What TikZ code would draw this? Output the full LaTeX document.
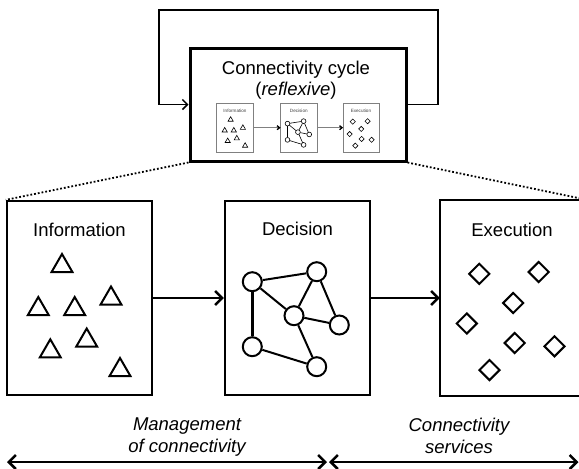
\documentclass[tikz,border=0pt]{standalone}
\usepackage{fontspec}
\setmainfont{Liberation Sans}
\usepackage{tikz}
\usetikzlibrary{arrows.meta}
\usetikzlibrary{shapes.geometric}

\tikzset{
	shapeline/.style={line width=2pt},
	thickline/.style={line width=3pt},
	panelline/.style={draw=black, line width=2.3pt},
	panel/.style={rectangle, panelline, minimum width=145pt, minimum height=194pt, inner sep=0pt},
	cutpanel/.style={draw=none},
	paneltitle/.style={font=\fontsize{18.5}{21.5}\selectfont, inner sep=0pt, anchor=base},
	tri/.style={regular polygon, regular polygon sides=3, draw, shapeline, minimum size=24pt, inner sep=0pt},
	dia/.style={diamond, draw, shapeline, minimum width=21pt, minimum height=21pt, inner sep=0pt},
	vtx/.style={circle, draw, shapeline, minimum size=19pt, inner sep=0pt},
	link/.style={shapeline},
	boldlink/.style={thickline},
	flow/.style={line width=2.5pt, -{Straight Barb[length=7pt,width=14pt]}},
	miniflow/.style={draw=gray, line width=1.3pt, -{Straight Barb[length=2.5pt,width=4pt,color=black]}},
	span/.style={line width=2.5pt, {Straight Barb[length=7pt,width=14pt]}-{Straight Barb[length=7pt,width=14pt]}},
	loopline/.style={line width=1.5pt, -{Straight Barb[length=5pt,width=10pt]}},
	zoomline/.style={dotted, line width=1.8pt},
	captext/.style={font=\fontsize{18.5}{22}\selectfont\itshape, align=center, inner sep=0pt, anchor=north},
	cycletitle/.style={font=\fontsize{18.5}{21}\selectfont, align=center, inner sep=0pt, anchor=north}
}

\newcommand{\infopanel}[1]{%
	\node[panel] (info#1) at (79.5,298) {};
	\node[paneltitle] (infotitle#1) at (79.5,236.5) {Information};
	\node[tri] (ta#1) at (62,266) {};
	\node[tri] (tb#1) at (38.3,309) {};
	\node[tri] (tc#1) at (74.7,309) {};
	\node[tri] (td#1) at (111,298.5) {};
	\node[tri] (te#1) at (50.3,351.3) {};
	\node[tri] (tf#1) at (86.7,340.5) {};
	\node[tri] (tg#1) at (120,370) {};
}

\newcommand{\decpanel}[1]{%
	\node[panel] (dec#1) at (297.5,298) {};
	\node[paneltitle] (dectitle#1) at (297.5,235.7) {Decision};
	\node[vtx] (va#1) at (252.3,281.7) {};
	\node[vtx] (vb#1) at (316.7,271.7) {};
	\node[vtx] (vc#1) at (294,315.7) {};
	\node[vtx] (vd#1) at (339.3,325) {};
	\node[vtx] (ve#1) at (252.3,346.7) {};
	\node[vtx] (vf#1) at (316.7,366.7) {};
	\draw[link] (va#1) -- (vb#1);
	\draw[link] (va#1) -- (vc#1);
	\draw[boldlink] (va#1) -- (ve#1);
	\draw[link] (vb#1) -- (vc#1);
	\draw[link] (vb#1) -- (vd#1);
	\draw[link] (vc#1) -- (vd#1);
	\draw[link] (vc#1) -- (vf#1);
	\draw[link] (ve#1) -- (vf#1);
}

\newcommand{\execpanel}[1]{%
	\node[panel, cutpanel] (exec#1) at (513.5,298) {};
	\node[paneltitle] (exectitle#1) at (512,236) {Execution};
	\node[dia] (da#1) at (479.3,273.8) {};
	\node[dia] (db#1) at (538.7,272) {};
	\node[dia] (dc#1) at (513.2,303) {};
	\node[dia] (dd#1) at (466.8,323.5) {};
	\node[dia] (de#1) at (514.7,343) {};
	\node[dia] (df#1) at (554.5,346.3) {};
	\node[dia] (dg#1) at (489.5,370) {};
}

\begin{document}
\begin{tikzpicture}[x=1pt, y=-1pt]
	\useasboundingbox (0,0) rectangle (579,469);
	\clip (0,0) rectangle (579,469);

	\node[draw, line width=3pt, minimum width=216pt, minimum height=113pt, inner sep=0pt] (cycle) at (298,104.5) {};
	\node[cycletitle] (cycletext) at (296,60.5) {Connectivity cycle\\(\textit{reflexive})};

	\begin{scope}[shift={(235,127.7)}, scale=0.25, shift={(-79.5,-298)}, transform shape,
		shapeline/.style={line width=0.6pt}, thickline/.style={line width=0.9pt},
		panelline/.style={draw=gray, line width=0.8pt}, paneltitle/.append style={text=darkgray}]
		\infopanel{m}
	\end{scope}
	\begin{scope}[shift={(298.8,127.7)}, scale=0.25, shift={(-297.5,-298)}, transform shape,
		shapeline/.style={line width=0.6pt}, thickline/.style={line width=0.9pt},
		panelline/.style={draw=gray, line width=0.8pt}, paneltitle/.append style={text=darkgray}]
		\decpanel{m}
	\end{scope}
	\begin{scope}[shift={(361.3,127.7)}, scale=0.25, shift={(-513.5,-298)}, transform shape,
		shapeline/.style={line width=0.6pt}, thickline/.style={line width=0.9pt},
		panelline/.style={draw=gray, line width=0.8pt}, paneltitle/.append style={text=darkgray},
		cutpanel/.style={}]
		\execpanel{m}
	\end{scope}
	\draw[miniflow] (infom) -- (decm);
	\draw[miniflow] (decm) -- (execm);

	\coordinate (loopr) at (438,10);
	\coordinate (loopl) at (159,10);
	\draw[loopline] (cycle.east) -| (loopr) -- (loopl) |- (cycle.west);

	\infopanel{}
	\decpanel{}
	\execpanel{}
	% right side of the last panel runs off the page
	\draw[panelline] (exec.north east) -- (exec.north west) -- (exec.south west) -- (exec.south east);

	\draw[zoomline] (cycle.south west) -- (info.north west);
	\draw[zoomline] (cycle.south east) -- (exec.north east);
	\draw[flow] (info) -- (dec);
	\draw[flow] (dec) -- (exec);

	\node[captext] (mgmt) at (187,417.7) {Management\\of connectivity};
	\node[captext] (svc) at (459,417.5) {Connectivity\\services};
	\coordinate (mgmtl) at (7,462);
	\coordinate (mgmtr) at (327,462);
	\coordinate (svcl) at (329,462);
	\coordinate (svcr) at (578.5,462);
	\draw[span] (mgmtl) -- (mgmtr);
	\draw[span] (svcl) -- (svcr);
\end{tikzpicture}
\end{document}
